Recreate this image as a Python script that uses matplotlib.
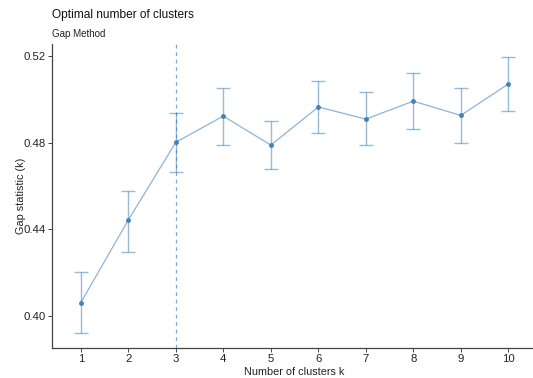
import matplotlib
matplotlib.use("Agg")
import matplotlib.pyplot as plt

k = [1, 2, 3, 4, 5, 6, 7, 8, 9, 10]
gap = [0.4062, 0.4443, 0.4802, 0.4923, 0.4789, 0.4965, 0.4909, 0.4992, 0.4926, 0.5071]
ymin = [0.3920, 0.4295, 0.4663, 0.4788, 0.4680, 0.4846, 0.4788, 0.4862, 0.4799, 0.4946]
ymax = [0.4202, 0.4577, 0.4936, 0.5051, 0.4900, 0.5083, 0.5034, 0.5123, 0.5051, 0.5194]
optimal_k = 3
yticks = [0.40, 0.44, 0.48, 0.52]

plt.rcParams['font.family'] = ['Liberation Sans', 'DejaVu Sans']

W, H = 533, 378
fig = plt.figure(figsize=(W/100, H/100), dpi=100)
x0, x1 = 52.3, 536.8
y0, y1 = 43.5, 347.7
ax = fig.add_axes([x0/W, 1 - y1/H, (x1-x0)/W, (y1-y0)/H])

col = "#4682B4"
ax.axvline(optimal_k, color=col, ls=(0, (3, 3)), lw=0.9, alpha=0.7, zorder=1)
lo = [g - a for g, a in zip(gap, ymin)]
hi = [b - g for g, b in zip(gap, ymax)]
ax.errorbar(k, gap, yerr=[lo, hi], fmt='none', ecolor=col, elinewidth=1.0,
            capsize=5, capthick=1.0, alpha=0.55, zorder=2)
ax.plot(k, gap, color=col, lw=0.9, alpha=0.6, zorder=3)
ax.plot(k, gap, 'o', color=col, ms=2.5, zorder=4)

ax.set_xlim(0.4, 10.6)
ax.set_ylim(0.3854, 0.5258)
ax.set_xticks(k)
ax.set_xticklabels([str(v) for v in k])
ax.set_yticks(yticks)
ax.set_yticklabels([f"{v:.2f}" for v in yticks])

for s in ['top', 'right']:
    ax.spines[s].set_visible(False)
for s in ['left', 'bottom']:
    ax.spines[s].set_color('#444444')
    ax.spines[s].set_linewidth(0.9)
ax.tick_params(length=3, width=0.7, color='#444444', labelcolor='#222222',
               labelsize=8.2, pad=1.5)

ax.set_xlabel("Number of clusters k", fontsize=7.8, color='#222222', labelpad=2)
ax.set_ylabel("Gap statistic (k)", fontsize=7.8, color='#222222')
ax.yaxis.set_label_coords((26 - x0) / (x1 - x0), 0.5)

fig.text(52/W, 1 - 18/H, "Optimal number of clusters", fontsize=8.6, color='#111111',
         ha='left', va='baseline')
fig.text(52/W, 1 - 37/H, "Gap Method", fontsize=7, color='#222222',
         ha='left', va='baseline')

fig.savefig("out.png", dpi=100)
